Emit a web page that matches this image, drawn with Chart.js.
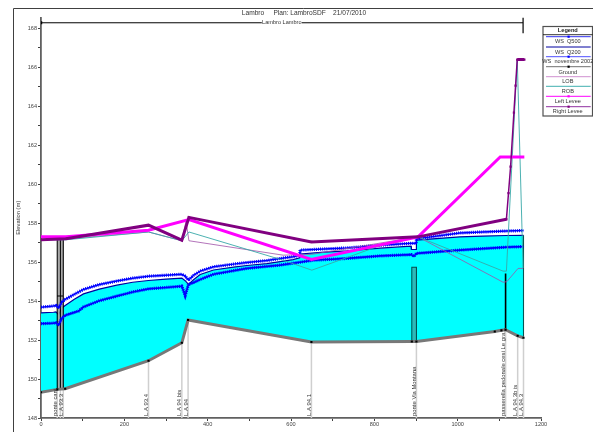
<!DOCTYPE html>
<html><head><meta charset="utf-8">
<script src="https://cdn.jsdelivr.net/npm/chart.js@4"></script>
<style>html,body{margin:0;padding:0;background:#fff;width:593px;height:432px;overflow:hidden}
canvas{display:block;filter:blur(0.4px)}</style></head><body>
<canvas id="c" width="593" height="445"></canvas>
<script>
const titleText = 'Lambro     Plan: LambroSDF    21/07/2010';
const reachLabel = 'Lambro Lambro';
const xTitle = 'Main Channel Distance (m)';
const yTitle = 'Elevation (m)';
const legendTitle = 'Legend';
const legendLabels = ['WS  Q500','WS  Q200','WS  novembre 2002','Ground','LOB','ROB','Left Levee','Right Levee'];

const groundX = [0,39,58,258,338,353,649,890,901,1089,1105,1115,1144,1158];
const groundY = [149.32,149.47,149.5,150.94,151.86,153.03,151.9,151.93,151.93,152.44,152.5,152.53,152.22,152.12];

const stationX = [39,46.5,53.5,258,338,353,649,901,1115,1144,1158];
const stationGround = [149.47,149.47,149.5,150.94,151.86,153.03,151.9,151.93,152.53,152.22,152.12];
const stationLabels = ['ponte cani','','L.A 93.3','L.A 93.4','L.A 94 bis','L.A 94','L.A 94.1','ponte Via Montana','passerella pedonale cesi Le gra...','L.A 94.3b is','L.A 94.3'];

const ws500X = [0,30,36,42,50,58,80,102,140,182,220,258,300,338,346,354,366,382,414,462,494,542,574,605,621,622,680,734,814,889,900,901,1005,1060,1117,1158];
const ws500Y = [153.69,153.75,153.78,153.65,153.95,154.09,154.35,154.6,154.85,155.03,155.18,155.28,155.33,155.38,155.28,155.08,155.32,155.54,155.76,155.9,155.98,156.08,156.19,156.28,156.36,156.62,156.68,156.73,156.87,156.97,156.97,157.2,157.5,157.55,157.6,157.62];

const ws200X = [0,30,36,42,50,58,80,102,140,182,220,258,300,338,346,354,366,382,414,462,494,542,574,605,621,622,680,734,814,888,889,900,901,1005,1060,1117,1158];
const ws200Y = [153.4,153.43,153.45,153.3,153.65,153.78,154.1,154.37,154.62,154.82,154.97,155.06,155.13,155.18,155.05,154.86,155.1,155.37,155.6,155.75,155.83,155.93,156.03,156.13,156.22,156.42,156.52,156.58,156.72,156.82,156.65,156.65,157.13,157.3,157.34,157.37,157.38];

const wsNovX = [0,30,36,42,50,58,80,90,102,140,182,220,258,300,338,346,354,366,382,414,494,574,654,734,814,889,895,901,1005,1117,1158];
const wsNovY = [152.84,152.87,152.89,152.77,153.12,153.27,153.42,153.49,153.7,154.02,154.26,154.47,154.63,154.7,154.77,154.29,154.86,154.95,155.11,155.38,155.68,155.85,156.1,156.19,156.32,156.39,156.3,156.45,156.62,156.77,156.8];

const lobX = [0,60,258,338,348,355,581,649,905,1109,1118,1145,1157];
const lobY = [157.15,157.2,157.55,157.1,158.1,157.1,156.36,156.4,157.3,154.97,155,155.68,155.68];
const robX = [0,60,258,338,355,581,650,805,905,1109,1117,1143,1157];
const robY = [157.15,157.15,157.55,157.1,157.55,156.1,155.59,156.78,157.3,155.54,155.54,166.4,155.7];
const leftX = [0,60,258,355,649,905,1102,1160];
const leftY = [157.3,157.3,157.64,158.19,156.14,157.3,161.4,161.4];
const rightX = [0,60,258,338,355,649,905,1117,1122,1127,1135,1139,1143,1160];
const rightY = [157.15,157.2,157.9,157.13,158.3,157.04,157.3,158.2,159.55,160.9,163.68,165.06,166.4,166.4];

const columnX = [39,39,null,46.5,46.5,null,53.5,53.5,null,39,53.5];
const columnY = [149.47,157.15,null,149.47,157.15,null,149.5,157.15,null,154.26,154.26];
const columnGreyX = [42.75,42.75,null,50.25,50.25];
const columnGreyY = [149.5,157.15,null,149.5,157.15];
const pierX = [890,890,901,901];
const pierY = [151.93,155.74,155.74,151.93];
const pierInnerX = [895.5,895.5];
const pierInnerY = [151.93,155.74];
const footbridgeX = [1115,1115];
const footbridgeY = [152.53,155.42];
const endWallX = [1158,1158];
const endWallY = [152.12,157.38];
const reachX = [0,530,null,626,1157];
const reachY = [168.29,168.29,null,168.29,168.29];
const reachEndX = [1157,1157];
const reachEndY = [167.75,168.56];
const reachStartX = [0,3];
const reachStartY = [168.29,168.29];

const zip = (xs, ys) => xs.map((x, i) => ({x, y: ys[i]}));
const stationPts = stationX.flatMap((x, i) => [{x, y: 148}, {x, y: stationGround[i]}, {x, y: null}]);
const ln = (label, data, color, width, order, extra) => Object.assign({
  label, data, borderColor: color, backgroundColor: color, borderWidth: width, order,
  pointRadius: 0, tension: 0, fill: false, spanGaps: false
}, extra || {});

const datasets = [
  ln('Stations', stationPts, '#cfcfcf', 1.5, 90),
  ln('Ground', zip(groundX, groundY), '#787878', 3, 20, {pointRadius: 1.5, pointStyle: 'rect', pointBackgroundColor: '#000', pointBorderColor: '#000', pointBorderWidth: 0}),
  ln('WS Q200', zip(ws200X, ws200Y), '#0000a0', 1.2, 30, {fill: {target: 1}, backgroundColor: '#00ffff'}),
  ln('WS Q500', zip(ws500X, ws500Y), '#0000ff', 1.5, 15),
  ln('WS Q500 marks', zip(ws500X, ws500Y), '#0000ff', 3.2, 14, {borderDash: [1, 1.1]}),
  ln('WS novembre 2002', zip(wsNovX, wsNovY), '#0000ff', 1.7, 13),
  ln('WS novembre 2002 marks', zip(wsNovX, wsNovY), '#0000ff', 3.2, 12, {borderDash: [1, 1.1]}),
  ln('Pier inner', zip(pierInnerX, pierInnerY), '#30b8b8', 3.5, 25),
  ln('Pier', zip(pierX, pierY), '#054a4a', 1.1, 24),
  ln('Footbridge', zip(footbridgeX, footbridgeY), '#000', 1.6, 24),
  ln('End wall', zip(endWallX, endWallY), '#055555', 1.1, 24),
  ln('Columns grey', zip(columnGreyX, columnGreyY), '#a8a8a8', 2, 26),
  ln('Columns', zip(columnX, columnY), '#000', 1.1, 25),
  ln('LOB', zip(lobX, lobY), '#a050a8', 0.8, 11),
  ln('ROB', zip(robX, robY), '#38a8a8', 0.9, 10),
  ln('Left Levee', zip(leftX, leftY), '#ff00ff', 3, 6),
  ln('Right Levee', zip(rightX, rightY), '#800080', 3, 5, {pointRadius: 1.6, pointStyle: 'rect', pointBorderWidth: 0,
    segment: {borderWidth: ctx => (ctx.p1.parsed.y - ctx.p0.parsed.y) > 1 && ctx.p0.parsed.x > 1000 ? 1.5 : 3}}),
  ln('Reach', zip(reachX, reachY), '#000', 1, 2),
  ln('Reach end', zip(reachEndX, reachEndY), '#000', 1.2, 2),
  ln('Reach start', zip(reachStartX, reachStartY), '#000', 3, 2)
];

const legendRows = [
  {c:'#3030f0', w:1, m:'#0000ff'},
  {c:'#0000a0', w:1, m:null},
  {c:'#5050ff', w:1, m:'#0000ff'},
  {c:'#707070', w:1, m:'#000'},
  {c:'#d090d0', w:1, m:null},
  {c:'#40b0b0', w:1, m:null},
  {c:'#ff00ff', w:1, m:'#ff00ff'},
  {c:'#9030a0', w:1, m:'#800080'}
];

const extras = {
  id: 'extras',
  afterLayout(chart) {
    chart.titleBlock.left += 53;
  },
  beforeDraw(chart) {
    const c = chart.ctx; c.save();
    c.strokeStyle = '#404040'; c.lineWidth = 1;
    c.beginPath(); c.moveTo(13.5, 460); c.lineTo(13.5, 8.5); c.lineTo(593, 8.5); c.stroke();
    c.restore();
  },
  afterDraw(chart) {
    const c = chart.ctx, X = chart.scales.x, Y = chart.scales.y;
    c.save();
    c.fillStyle = '#333';
    c.font = '5.6px "Liberation Sans"';
    c.textAlign = 'center'; c.textBaseline = 'middle';
    c.fillText(reachLabel, X.getPixelForValue(578), Y.getPixelForValue(168.29));
    c.font = '5.9px "Liberation Sans"';
    c.textAlign = 'left';
    stationX.forEach((x, i) => {
      if (!stationLabels[i]) return;
      c.save();
      c.translate(X.getPixelForValue(x) - 2, 416);
      c.rotate(-Math.PI / 2);
      c.fillText(stationLabels[i], 0, 0);
      c.restore();
    });
    // legend box
    const L = 543, R = 592.5, T = 26.5, B = 116;
    c.fillStyle = '#fff'; c.fillRect(L, T, R - L, B - T);
    c.strokeStyle = '#505050'; c.lineWidth = 1.2; c.strokeRect(L, T, R - L, B - T);
    c.beginPath(); c.moveTo(L, 34.7); c.lineTo(R, 34.7); c.strokeStyle = '#000'; c.lineWidth = 0.8; c.stroke();
    c.fillStyle = '#222'; c.textAlign = 'center';
    c.font = 'bold 5.6px "Liberation Sans"';
    c.fillText(legendTitle, 567.8, 30.6);
    c.font = '5.6px "Liberation Sans"';
    const lineY = [36.7,47,56.7,66.7,76.7,86.3,96.3,106.7];
    const textY = [41.7,52,61.7,72,81,91,101,111];
    legendLabels.forEach((t, i) => {
      const r = legendRows[i];
      c.strokeStyle = r.c; c.lineWidth = r.w;
      c.beginPath(); c.moveTo(546, lineY[i]); c.lineTo(590.7, lineY[i]); c.stroke();
      if (r.m) { c.fillStyle = r.m; c.fillRect(567.5, lineY[i] - 1.1, 2.2, 2.2); }
      c.fillStyle = '#333';
      c.fillText(t, 567.8, textY[i]);
    });
    c.restore();
  }
};

new Chart(document.getElementById('c'), {
  type: 'line',
  data: {datasets},
  plugins: [extras],
  options: {
    responsive: false, animation: false, parsing: true,
    layout: {padding: {left: 14, top: 0, right: 52, bottom: 0}},
    plugins: {
      legend: {display: false},
      tooltip: {enabled: false},
      title: {display: true, text: titleText, color: '#333', font: {family: 'Liberation Sans', size: 6.6, weight: 'normal'}, padding: {top: 9.6, bottom: 0}}
    },
    scales: {
      x: {
        type: 'linear', min: 0, max: 1200,
        afterFit(s) { s.height = 27; },
        grid: {drawOnChartArea: false, drawTicks: true, tickLength: 3, color: '#404040'},
        border: {display: true, color: '#606060', width: 1.8},
        ticks: {stepSize: 100, autoSkip: false, maxRotation: 0, padding: 0, color: '#444', font: {family: 'Liberation Sans', size: 5.6},
          callback: v => v % 200 === 0 ? v : ''},
        title: {display: true, text: xTitle, color: '#333', font: {family: 'Liberation Sans', size: 5.8}, padding: {top: 0, bottom: 7}}
      },
      y: {
        type: 'linear', min: 148, max: 168.56,
        afterFit(s) { s.width = 27; },
        grid: {drawOnChartArea: false, drawTicks: true, tickLength: 3, color: '#404040'},
        border: {display: true, color: '#606060', width: 1.8},
        ticks: {stepSize: 1, includeBounds: false, autoSkip: false, padding: 1, color: '#444', font: {family: 'Liberation Sans', size: 5.6},
          callback: v => v % 2 === 0 ? v : ''},
        title: {display: true, text: yTitle, color: '#333', font: {family: 'Liberation Sans', size: 5.8}, padding: {top: 1, bottom: 0}}
      }
    }
  }
});
</script>
</body></html>
